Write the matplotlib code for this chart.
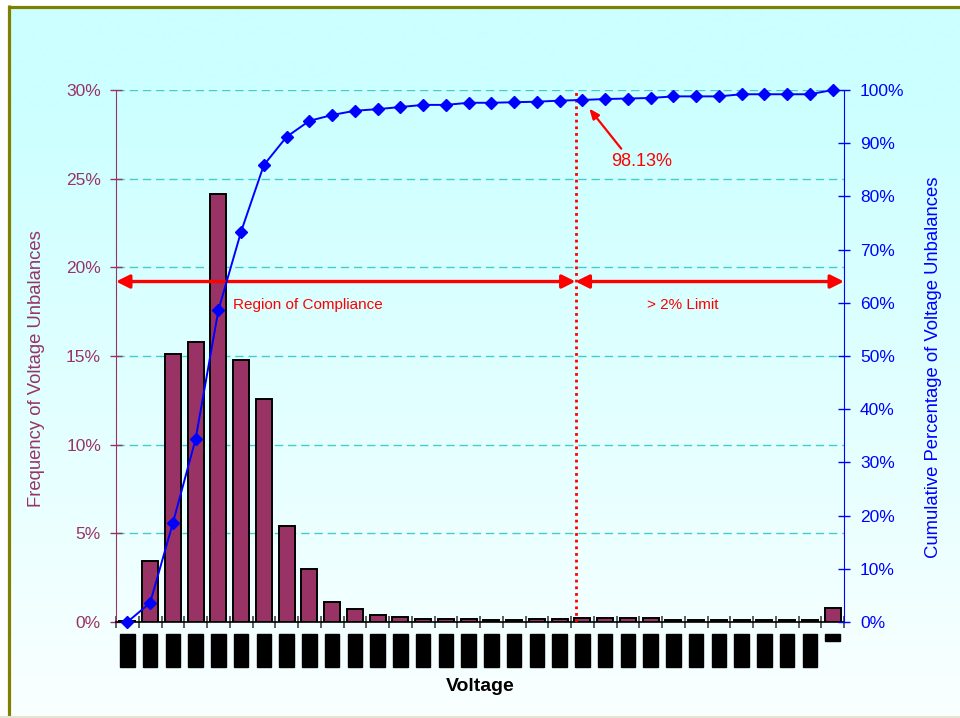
import numpy as np
import matplotlib.pyplot as plt
from matplotlib.ticker import MultipleLocator, FuncFormatter

plt.rcParams['font.family'] = ['Liberation Sans', 'DejaVu Sans']

# Voltage unbalance histogram (percent of readings per 0.1% bin)
bins = ['%.1f%%' % (k / 10) for k in range(31)] + ['-']
freq = [0.05, 3.45, 15.1, 15.8, 24.15, 14.75, 12.55, 5.4, 3.0, 1.15,
        0.75, 0.38, 0.28, 0.19, 0.19, 0.19, 0.09, 0.09, 0.19, 0.19,
        0.2, 0.2, 0.2, 0.2, 0.1, 0.1, 0.1, 0.1, 0.1, 0.1, 0.1, 0.8]
cum_pct = [0.0, 3.6, 18.6, 34.4, 58.6, 73.4, 85.9, 91.2, 94.2, 95.3,
           96.1, 96.4, 96.8, 97.2, 97.2, 97.6, 97.6, 97.7, 97.8, 98.0,
           98.13, 98.3, 98.4, 98.5, 98.8, 98.8, 98.8, 99.2, 99.2, 99.2,
           99.2, 100.0]
limit_idx = 20          # first bin over the 2% limit
limit_pos = 19.7        # where the limit line is drawn
arrow_level = 19.2      # height of the region arrows (left axis units)

W, H = 960, 718
fig = plt.figure(figsize=(W / 100, H / 100), dpi=100)

# chart area: vertical cyan -> white fill with olive frame
bg = fig.add_axes([0, 0, 1, 1], zorder=-10)
bg.set_xlim(0, W)
bg.set_ylim(H, 0)
bg.axis('off')
ys = np.arange(6, 717)
t = np.clip((ys - 110) / (716 - 110), 0, 1)
red = (204 + (250 - 204) * t) / 255
shade = np.stack([red, np.ones_like(red), np.ones_like(red)], axis=-1)[:, None, :]
bg.imshow(shade, extent=[9, W, 716, 6], aspect='auto', interpolation='bilinear')
bg.plot([9, 9], [5, 716], color='#808000', lw=2.3, solid_capstyle='butt')
bg.plot([8, W], [6.5, 6.5], color='#808000', lw=2.3, solid_capstyle='butt')
bg.plot([0, W], [717, 717], color='#E4E4D4', lw=1.5)

maroon = '#993366'
blue = '#0000FF'

ax = fig.add_axes([116 / W, 1 - 622 / H, 728 / W, 532 / H])
ax.set_facecolor('none')
x = np.arange(len(freq))
ax.bar(x, freq, width=0.7, color=maroon, edgecolor='black', lw=1.4, zorder=3)
ax.set_xlim(-0.5, len(freq) - 0.5)
ax.set_ylim(0, 30)
ax.yaxis.set_major_locator(MultipleLocator(5))
ax.yaxis.set_major_formatter(FuncFormatter(lambda v, p: '%d%%' % v))
ax.grid(axis='y', color='#44CCCC', linestyle=(0, (6, 3.5)), lw=1, zorder=1)

ax.spines['top'].set_visible(False)
ax.spines['right'].set_visible(False)
ax.spines['left'].set_color(maroon)
ax.spines['bottom'].set_color('black')
ax.spines['bottom'].set_linewidth(1.2)
ax.tick_params(axis='y', colors=maroon, direction='inout', length=8.6,
               width=1, pad=6.5, labelsize=12.5)

# category labels below the bars, boundaries as minor ticks
ax.set_xticks(x)
ax.set_xticklabels(bins, rotation=90, fontsize=9.5, color='black')
for lab in ax.get_xticklabels():
    lab.set_bbox(dict(boxstyle='square,pad=0.1', fc='black', ec='black'))
ax.tick_params(axis='x', which='major', length=0, pad=9.6)
ax.set_xticks(np.arange(-0.5, len(freq)), minor=True)
ax.tick_params(axis='x', which='minor', direction='inout', length=8,
               width=1.2, color='#444444')

ax.set_ylabel('Frequency of Voltage Unbalances', color=maroon, fontsize=13.3)
ax.yaxis.set_label_coords(-0.0975, 0.477)
ax.set_xlabel('Voltage', fontsize=14, fontweight='bold')
ax.xaxis.set_label_coords(0.5, -0.105)

# cumulative curve on the right axis
ax2 = ax.twinx()
ax2.plot(x, cum_pct, color=blue, lw=1.4, marker='D', ms=6, zorder=4,
         clip_on=False)
ax2.set_ylim(0, 100)
ax2.yaxis.set_major_locator(MultipleLocator(10))
ax2.yaxis.set_major_formatter(FuncFormatter(lambda v, p: '%d%%' % v))
for side in ('top', 'left', 'bottom'):
    ax2.spines[side].set_visible(False)
ax2.spines['right'].set_color(blue)
ax2.tick_params(axis='y', colors=blue, direction='inout', length=8.6,
                width=1, pad=7.2, labelsize=12.5)
ax2.set_ylabel('Cumulative Percentage of Voltage Unbalances', color=blue,
               fontsize=13.3)
ax2.yaxis.set_label_coords(1.111, 0.479)

# 2% limit marker and region arrows
ax.axvline(limit_pos, color='red', lw=2, ls=(0, (1, 1.4)), zorder=5)
arrow = dict(arrowstyle='<|-|>,head_length=0.5,head_width=0.25', color='red',
             lw=2.4, mutation_scale=16, shrinkA=0, shrinkB=0)
ax.annotate('', xy=(-0.5, arrow_level), xytext=(limit_pos, arrow_level),
            arrowprops=arrow, zorder=5)
ax.annotate('', xy=(limit_pos, arrow_level), xytext=(len(freq) - 0.5, arrow_level),
            arrowprops=arrow, zorder=5)
ax.text(4.64, 17.9, 'Region of Compliance', color='red', fontsize=11,
        ha='left', va='center')
ax.text(24.42, 17.9, '> 2% Limit', color='red', fontsize=11,
        ha='center', va='center')

ax2.annotate('%.2f%%' % cum_pct[limit_idx], xy=(limit_idx, cum_pct[limit_idx]),
             xytext=(42.5, -44), textcoords='offset points', color='red',
             fontsize=13, ha='center', va='center',
             arrowprops=dict(arrowstyle='-|>,head_length=0.6,head_width=0.25',
                             color='red', lw=1.6, mutation_scale=10,
                             relpos=(0.22, 1), shrinkA=1, shrinkB=8))

fig.savefig('out.png', dpi=100)
